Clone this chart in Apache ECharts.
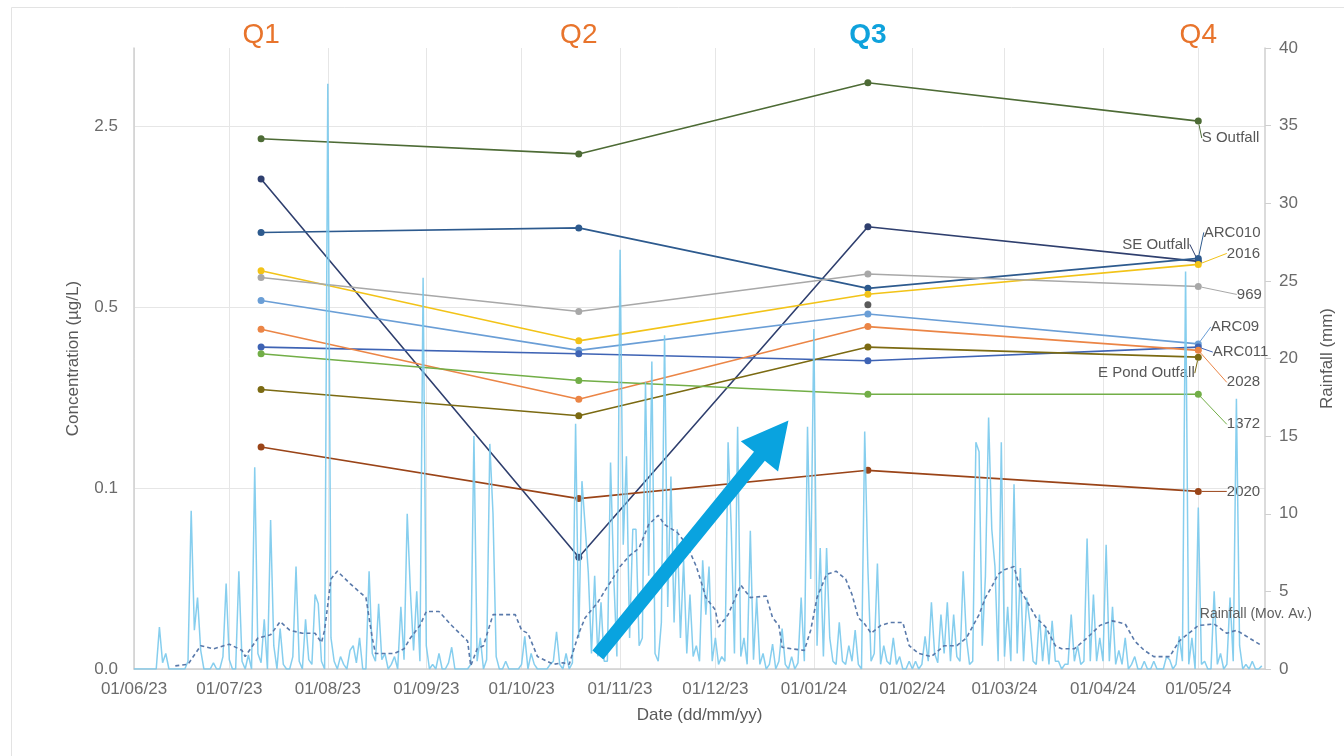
<!DOCTYPE html>
<html>
<head>
<meta charset="utf-8">
<script src="https://cdn.jsdelivr.net/npm/echarts@6/dist/echarts.min.js"></script>
<style>
  html, body { margin: 0; padding: 0; background: #ffffff; }
  #chart { width: 1344px; height: 756px; }
</style>
</head>
<body>
<div id="chart"></div>
<script>
// ---- sampling rounds ----
const sampleDates = ['2023-07-11', '2023-10-19', '2024-01-18', '2024-05-01'];
const quarterLabels = ['Q1', 'Q2', 'Q3', 'Q4'];

// ---- concentration per site (µg/L), one value per sampling round ----
const sOutfall  = [2.23, 1.95, 3.67, 2.61];
const seOutfall = [1.56, 0.054, 1.02, 0.75];
const arc010    = [0.97, 1.01, 0.59, 0.77];
const site2016  = [0.69, 0.37, 0.56, 0.73];
const site969   = [0.65, 0.48, 0.67, 0.60];
const arc09     = [0.53, 0.34, 0.47, 0.36];
const arc011    = [0.35, 0.33, 0.31, 0.35];
const ePond     = [0.24, 0.19, 0.35, 0.32];
const site2028  = [0.41, 0.22, 0.42, 0.34];
const site1372  = [0.33, 0.26, 0.23, 0.23];
const site2020  = [0.144, 0.091, 0.117, 0.097];
const arc08     = [null, null, 0.51, null];

// ---- daily rainfall (mm), from 01/06/23 ----
const dailyRainfall = [
  0,0,0,0,0,0,0,0,2.7,0.4,
  1.0,0,0,0,0,0,0,0.5,10.2,2.5,
  4.6,1.2,0,0,0,0.4,0,0,0.8,5.5,
  0.6,0,0,6.3,0.5,0,0.9,0,13.0,1.0,
  0.4,3.2,0,9.6,1.5,0,2.6,0.3,0,0,
  0.8,6.6,0.5,0,3.2,0.6,0.3,4.8,4.2,0.5,
  0,37.7,2.0,0.5,0,0.8,0.3,0,1.2,1.5,
  0.4,2.0,0,0,6.3,1.0,0.5,4.2,0.6,1.0,
  0,0.3,0.8,0,4.0,0.6,10.0,5.0,1.2,5.0,
  0.5,25.2,1.5,0,0.3,0,1.0,0,0,0.4,
  1.4,0,0,0,0,0,0.3,15.0,0.5,2.0,
  0,0.6,14.5,10.0,0.8,0,0,0.5,0,0,
  0,0,0.3,2.1,0,1.0,0.3,0,0,0,
  0,0.3,0.5,2.4,0.3,0,1.0,0,0.4,15.8,
  2.0,12.1,9.2,6.2,1.0,6.0,0.8,4.3,0.5,0.5,
  13.3,6.0,0.8,27.0,8.0,13.7,2.0,9.0,9.0,1.5,
  2.0,18.5,6.0,19.8,1.0,0.5,3.0,21.5,4.0,12.4,
  3.0,9.0,2.0,7.0,1.0,4.8,0.8,1.5,0.5,7.0,
  3.5,6.6,0.5,2.0,0.3,0.8,0.5,14.6,9.0,1.0,
  15.6,0.8,2.0,0.3,8.9,0.6,4.6,0.3,1.0,0,
  0.3,1.6,0,0.5,2.6,0.3,0,0.8,0,0.4,
  4.6,0.5,15.6,5.8,21.9,1.5,7.8,0.8,7.8,2.0,
  0.5,0.3,3.0,0.5,0.3,1.5,0.5,2.5,0.3,0,
  15.3,6.5,0.5,1.0,6.8,0.3,1.5,0.5,0.3,2.0,
  0.3,0.8,0,0,0.5,0,0.5,0,0.3,2.1,
  0.5,4.3,1.0,0.4,3.5,1.0,4.3,0.5,3.5,0.8,
  0.5,6.3,2.0,0.3,0.5,14.6,14.0,1.5,6.0,16.2,
  9.0,6.6,0.5,14.6,0.8,4.0,0.5,11.9,1.0,6.5,
  0.5,4.6,3.0,0.5,0.3,3.5,0.5,2.7,0.3,3.1,
  0.5,0.5,0,0.3,0.3,3.5,0.5,1.5,0.3,0.5,
  8.4,0.5,4.8,0.5,2.0,0.5,8.0,0.5,4.0,0.3,
  1.2,0.3,2.0,0,0.3,0.8,0,0,0.5,0,
  0,0.5,0,0,0,0.8,0.6,0,0.3,2.1,
  0.5,25.6,0.3,2.0,0,10.4,0.3,0.5,0,0,
  5.0,0.3,1.0,0,0.3,4.6,0.5,17.4,1.5,0,
  0.3,0,0.5,0,0,0.2
];

// ---- rainfall moving average: day offset from 01/06/23, value (mm) ----
const movAvgDays = [13,17,21,25,30,34,35,39,43,46,49,53,57,59,60,62,64,68,73,75,76,82,85,87,90,92,96,100,105,106,108,110,113,120,122,124,127,132,135,137,140,142,146,149,150,153,156,159,162,165,167,171,174,177,179,180,183,184,187,191,194,199,201,203,204,207,211,213,215,218,221,224,226,228,230,232,235,238,242,244,247,251,255,259,262,266,268,270,272,274,277,279,284,287,290,292,296,300,304,308,312,315,318,321,326,329,332,335,340,344,347,351,355];
const movAvgValues = [0.2,0.3,1.5,1.3,1.6,1.2,0.8,2.0,2.2,3.05,2.5,2.3,2.3,1.7,2.5,5.8,6.3,5.5,4.6,2.0,1.0,1.0,1.3,2.0,2.8,3.7,3.7,2.8,1.8,0.2,1.3,1.5,3.5,3.5,2.5,2.3,0.8,0.3,0.4,0.3,2.3,3.3,4.3,5.3,5.6,6.6,7.3,7.8,9.3,9.9,9.3,8.8,8.0,6.6,5.3,4.6,3.8,2.7,3.5,5.4,4.6,4.7,3.3,2.8,1.4,1.3,1.2,2.5,4.6,6.1,6.3,5.8,4.8,3.3,2.9,2.3,2.8,3.0,3.0,1.5,1.0,0.8,1.5,1.5,2.0,3.5,4.6,5.3,6.1,6.4,6.6,5.1,3.3,2.7,1.5,1.3,1.3,2.0,2.8,3.1,2.9,1.8,1.2,0.8,0.8,1.8,2.3,2.8,2.9,2.3,2.5,2.0,1.5];

// ---- axis ticks ----
const monthTicks = ['2023-06-01','2023-07-01','2023-08-01','2023-09-01','2023-10-01','2023-11-01','2023-12-01','2024-01-01','2024-02-01','2024-03-01','2024-04-01','2024-05-01'];
const concTicks = [0.02, 0.1, 0.5, 2.5];

// ---- annotation arrow (day offset, rainfall mm) ----
const arrowTail = [146, 0.9];
const arrowTip  = [206, 16.0];

const FONT = '"Liberation Sans", Arial, sans-serif';

function dayToTime(d) { return new Date(2023, 5, 1 + d).getTime(); }
function isoToTime(s) { return new Date(s + 'T00:00:00').getTime(); }
function pad(n) { return n < 10 ? '0' + n : '' + n; }
function fmtDate(v) {
  const d = new Date(v);
  return pad(d.getDate()) + '/' + pad(d.getMonth() + 1) + '/' + pad(d.getFullYear() % 100);
}

const sites = [
  { name: 'S Outfall',      values: sOutfall,  color: '#4d6b35', pos: 'right', dx: -5, dy: 17 },
  { name: 'SE Outfall',     values: seOutfall, color: '#2f3f6e', pos: 'left',  dx: 0,  dy: -17 },
  { name: 'ARC010',         values: arc010,    color: '#2d5a8e', pos: 'right', dx: -3, dy: -26 },
  { name: '2016',           values: site2016,  color: '#f2c318', pos: 'right', dx: 20, dy: -11 },
  { name: '969',            values: site969,   color: '#a8a8a8', pos: 'right', dx: 30, dy: 8 },
  { name: 'ARC09',          values: arc09,     color: '#6a9ed6', pos: 'right', dx: 4,  dy: -17 },
  { name: 'ARC011',         values: arc011,    color: '#3e63b4', pos: 'right', dx: 6,  dy: 5 },
  { name: 'E Pond Outfall', values: ePond,     color: '#7b6a12', pos: 'left',  dx: 5,  dy: 16 },
  { name: '2028',           values: site2028,  color: '#eb8546', pos: 'right', dx: 20, dy: 32 },
  { name: '1372',           values: site1372,  color: '#72ae47', pos: 'right', dx: 20, dy: 30 },
  { name: '2020',           values: site2020,  color: '#9a4418', pos: 'right', dx: 20, dy: 0 }
];

const siteSeries = sites.map(function (s) {
  const last = s.values.length - 1;
  return {
    name: s.name,
    type: 'line',
    xAxisIndex: 0,
    yAxisIndex: 0,
    symbol: 'circle',
    symbolSize: 7,
    z: 3,
    lineStyle: { color: s.color, width: 1.6 },
    itemStyle: { color: s.color },
    data: s.values.map(function (v, i) {
      const item = { value: [isoToTime(sampleDates[i]), v] };
      if (i === last) {
        item.label = {
          show: true,
          position: s.pos,
          formatter: s.name,
          color: '#575757',
          fontSize: 15,
          fontFamily: FONT
        };
      }
      return item;
    }),
    labelLayout: { dx: s.dx, dy: s.dy },
    labelLine: { show: true, lineStyle: { color: s.color, width: 1 } },
    emphasis: { disabled: true },
    animation: false
  };
});

siteSeries.push({
  name: 'ARC08',
  type: 'line',
  symbol: 'circle',
  symbolSize: 7,
  z: 3,
  itemStyle: { color: '#5a5a5a' },
  lineStyle: { color: '#5a5a5a', width: 1.6 },
  data: arc08.map(function (v, i) { return [isoToTime(sampleDates[i]), v]; }),
  animation: false
});

const rainSeries = {
  name: 'Rainfall',
  type: 'line',
  xAxisIndex: 0,
  yAxisIndex: 1,
  symbol: 'none',
  z: 4,
  lineStyle: { color: '#79c9ec', width: 1.5, opacity: 0.9 },
  data: dailyRainfall.map(function (v, i) { return [dayToTime(i), v]; }),
  animation: false
};

const movAvgSeries = {
  name: 'Rainfall (Mov. Av.)',
  type: 'line',
  xAxisIndex: 0,
  yAxisIndex: 1,
  symbol: 'none',
  z: 4,
  lineStyle: { color: '#5979aa', width: 1.6, type: [4, 3] },
  endLabel: {
    show: true,
    formatter: 'Rainfall (Mov. Av.)',
    color: '#5f5f5f',
    fontSize: 14,
    fontFamily: FONT,
    offset: [-70, -32]
  },
  data: movAvgDays.map(function (d, i) { return [dayToTime(d), movAvgValues[i]]; }),
  animation: false
};

const chart = echarts.init(document.getElementById('chart'), null, { renderer: 'canvas' });

const axisLabelStyle = { color: '#6b6b6b', fontSize: 17, fontFamily: FONT };
const axisNameStyle = { color: '#595959', fontSize: 17, fontFamily: FONT };
const monthTickTimes = monthTicks.map(isoToTime);

chart.setOption({
  backgroundColor: '#ffffff',
  animation: false,
  grid: { left: 134, right: 78, top: 48, bottom: 87, containLabel: false },
  xAxis: {
    type: 'value',
    min: dayToTime(0),
    max: dayToTime(356),
    name: 'Date (dd/mm/yy)',
    nameLocation: 'middle',
    nameGap: 38,
    nameTextStyle: axisNameStyle,
    axisLine: { show: true, lineStyle: { color: '#cfcfcf', width: 1.5 } },
    axisTick: { show: false, customValues: monthTickTimes },
    axisLabel: Object.assign({ customValues: monthTickTimes, margin: 12, formatter: fmtDate, hideOverlap: false, showMinLabel: true, showMaxLabel: true }, axisLabelStyle),
    splitLine: { show: true, lineStyle: { color: '#e6e6e6', width: 1 } }
  },
  yAxis: [
    {
      type: 'log',
      logBase: 5,
      min: 0.02,
      max: 5,
      position: 'left',
      name: 'Concentration (µg/L)',
      nameLocation: 'middle',
      nameGap: 52,
      nameRotate: 90,
      nameTextStyle: axisNameStyle,
      axisLine: { show: true, lineStyle: { color: '#cfcfcf', width: 1.5 } },
      axisTick: { show: false, customValues: concTicks },
      axisLabel: Object.assign({ customValues: concTicks, margin: 16, formatter: function (v) { return Number(v).toFixed(1); } }, axisLabelStyle),
      splitLine: { show: true, lineStyle: { color: '#e6e6e6', width: 1 } }
    },
    {
      type: 'value',
      min: 0,
      max: 40,
      interval: 5,
      position: 'right',
      name: 'Rainfall (mm)',
      nameLocation: 'middle',
      nameGap: 54,
      nameRotate: 90,
      nameTextStyle: axisNameStyle,
      axisLine: { show: true, lineStyle: { color: '#cfcfcf', width: 1.5 } },
      axisTick: { show: true, length: 6, lineStyle: { color: '#cfcfcf' } },
      axisLabel: Object.assign({ margin: 14 }, axisLabelStyle),
      splitLine: { show: false }
    }
  ],
  series: [rainSeries, movAvgSeries].concat(siteSeries)
});

// ---- quarter headings and the trend arrow, placed through the axes ----
function arrowPoints(p0, p1) {
  const dx = p1[0] - p0[0], dy = p1[1] - p0[1];
  const len = Math.sqrt(dx * dx + dy * dy);
  const ux = dx / len, uy = dy / len;
  const nx = -uy, ny = ux;
  const shaft = 7, headLen = 46, headHalf = 24;
  const bx = p1[0] - ux * headLen, by = p1[1] - uy * headLen;
  return [
    [p0[0] + nx * shaft, p0[1] + ny * shaft],
    [bx + nx * shaft, by + ny * shaft],
    [bx + nx * headHalf, by + ny * headHalf],
    [p1[0], p1[1]],
    [bx - nx * headHalf, by - ny * headHalf],
    [bx - nx * shaft, by - ny * shaft],
    [p0[0] - nx * shaft, p0[1] - ny * shaft]
  ];
}

const graphics = [
  {
    type: 'rect', silent: true, z: -10,
    shape: { x: 11.5, y: 7.5, width: 1400, height: 800 },
    style: { fill: 'none', stroke: '#e3e3e3', lineWidth: 1 }
  }
];

quarterLabels.forEach(function (q, i) {
  const x = chart.convertToPixel({ xAxisIndex: 0 }, isoToTime(sampleDates[i]));
  const isCurrent = q === 'Q3';
  graphics.push({
    type: 'text', silent: true, z: 10,
    x: x, y: 35,
    style: {
      text: q,
      fill: isCurrent ? '#0fa2dc' : '#e8742c',
      font: (isCurrent ? 'bold ' : '') + '28px ' + FONT,
      align: 'center',
      verticalAlign: 'middle'
    }
  });
});

const tail = chart.convertToPixel({ xAxisIndex: 0, yAxisIndex: 1 }, [dayToTime(arrowTail[0]), arrowTail[1]]);
const tip = chart.convertToPixel({ xAxisIndex: 0, yAxisIndex: 1 }, [dayToTime(arrowTip[0]), arrowTip[1]]);
graphics.push({
  type: 'polygon', silent: true, z: 20,
  shape: { points: arrowPoints(tail, tip) },
  style: { fill: '#09a3df' }
});

chart.setOption({ graphic: graphics });
</script>
</body>
</html>
